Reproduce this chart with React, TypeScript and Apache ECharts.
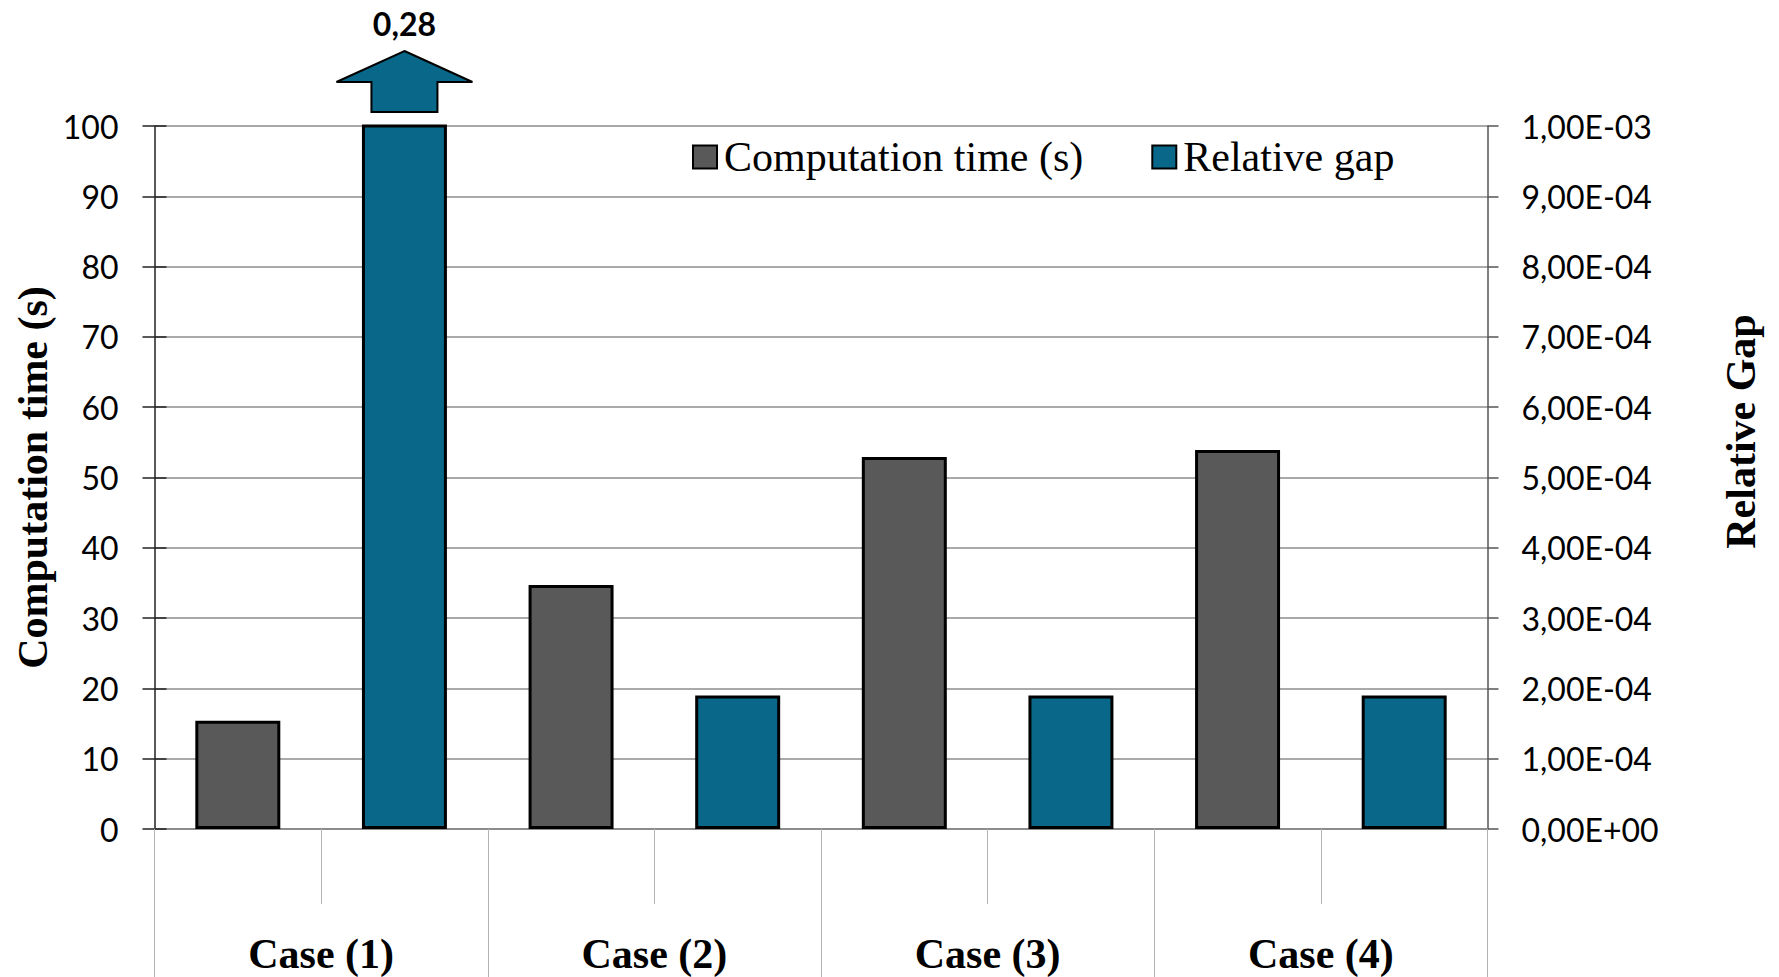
import React, { useEffect, useRef } from "react";
import * as echarts from "echarts";

const groups = ["Case (1)", "Case (2)", "Case (3)", "Case (4)"];
const subCats = [
  "Case (1) time", "Case (1) gap",
  "Case (2) time", "Case (2) gap",
  "Case (3) time", "Case (3) gap",
  "Case (4) time", "Case (4) gap",
];
const computationTime = [15.4, null, 34.7, null, 52.9, null, 53.9, null];
const relativeGap = [null, 0.28, null, 1.9e-4, null, 1.9e-4, null, 1.9e-4];
const leftTicks = { min: 0, max: 100, interval: 10 };
const rightTicks = { min: 0, max: 1e-3, interval: 1e-4 };
const leftTitle = "Computation time (s)";
const rightTitle = "Relative Gap";

const fmtSci = (v: number) => {
  if (Math.abs(v) < 1e-12) return "0,00E+00";
  const [m, e] = v.toExponential(2).split("e");
  const en = parseInt(e, 10);
  return m.replace(".", ",") + "E" + (en < 0 ? "-" : "+") + String(Math.abs(en)).padStart(2, "0");
};

export default function App() {
  const ref = useRef<HTMLDivElement>(null);
  useEffect(() => {
    const chart = echarts.init(ref.current!, undefined, { renderer: "svg" });
    const labelFont = { fontFamily: "Lato", fontSize: 32, color: "#000" };
    const titleFont = { fontFamily: "Liberation Serif", fontSize: 42, fontWeight: "bold" as const, color: "#000" };
    chart.setOption({
      animation: false,
      backgroundColor: "#fff",
      grid: { left: 154.5, right: 291.5, top: 126, bottom: 148, containLabel: false, outerBoundsMode: "none" },
      legend: {
        left: 687,
        top: 131,
        icon: "rect",
        itemWidth: 24,
        itemHeight: 23,
        itemGap: 68,
        textStyle: { fontFamily: "Liberation Serif", fontSize: 42, color: "#000", padding: [0, 0, 0, 2] },
        data: ["Computation time (s)", "Relative gap"],
      },
      xAxis: [
        {
          type: "category",
          data: subCats,
          position: "bottom",
          axisLine: { show: true, onZero: false, lineStyle: { color: "#8c8c8c", width: 2 } },
          axisTick: { show: true, interval: 0, length: 75, lineStyle: { color: "#b4b4b4", width: 1 } },
          axisLabel: { show: false },
          splitLine: { show: false },
        },
        {
          type: "category",
          data: groups,
          position: "bottom",
          axisLine: { show: false },
          axisTick: { show: true, interval: 0, length: 148, lineStyle: { color: "#b4b4b4", width: 1 } },
          axisLabel: { show: true, margin: 104, ...titleFont },
          splitLine: { show: false },
        },
      ],
      yAxis: [
        {
          type: "value",
          position: "left",
          ...leftTicks,
          axisLine: { show: true, lineStyle: { color: "#222", width: 1.5 } },
          axisTick: { show: true, length: 12, lineStyle: { color: "#222", width: 1.5 } },
          axisLabel: { margin: 36, ...labelFont },
          splitLine: { show: true, lineStyle: { color: "#8c8c8c", width: 1.5 } },
        },
        {
          type: "value",
          position: "right",
          ...rightTicks,
          axisLine: { show: true, lineStyle: { color: "#555", width: 1.5 } },
          axisTick: { show: true, length: 11, lineStyle: { color: "#555", width: 1.5 } },
          axisLabel: { margin: 34, ...labelFont, formatter: (v: number) => fmtSci(v) },
          splitLine: { show: false },
        },
        {
          type: "value",
          position: "left",
          ...leftTicks,
          axisLine: { show: false },
          axisTick: { show: true, inside: true, length: 12, lineStyle: { color: "#222", width: 1.5 } },
          axisLabel: { show: false },
          splitLine: { show: false },
        },
      ],
      series: [
        {
          name: "Computation time (s)",
          type: "bar",
          xAxisIndex: 0,
          yAxisIndex: 0,
          data: computationTime,
          barWidth: "51%",
          barGap: "-100%",
          itemStyle: { color: "#595959", borderColor: "#000", borderWidth: 3 },
        },
        {
          name: "Relative gap",
          type: "bar",
          xAxisIndex: 0,
          yAxisIndex: 1,
          data: relativeGap,
          barWidth: "51%",
          barGap: "-100%",
          clip: true,
          itemStyle: { color: "#09688a", borderColor: "#000", borderWidth: 3 },
        },
      ],
    });

    const cx0 = chart.convertToPixel({ xAxisIndex: 0 }, subCats[0]) as number;
    const cx = chart.convertToPixel({ xAxisIndex: 0 }, subCats[1]) as number;
    const rightX = chart.convertToPixel({ xAxisIndex: 0 }, subCats[7]) as number;
    const top = chart.convertToPixel({ yAxisIndex: 0 }, leftTicks.max) as number;
    const midY = chart.convertToPixel({ yAxisIndex: 0 }, 50) as number;
    const catW = cx - cx0;
    const leftEdge = cx0 - catW / 2;
    const rightEdge = rightX + catW / 2;
    const offVal = relativeGap.find((v) => v !== null && v > rightTicks.max) as number;
    chart.setOption({
      graphic: [
        {
          type: "polygon",
          shape: {
            points: [
              [cx, top - 75],
              [cx + 68, top - 44],
              [cx + 33, top - 44],
              [cx + 33, top - 14],
              [cx - 33, top - 14],
              [cx - 33, top - 44],
              [cx - 68, top - 44],
            ],
          },
          style: { fill: "#09688a", stroke: "#000", lineWidth: 2 },
        },
        {
          type: "text",
          x: cx,
          y: top - 103,
          style: {
            text: String(offVal).replace(".", ","),
            fontFamily: "Lato",
            fontSize: 32,
            fontWeight: "bold",
            fill: "#000",
            align: "center",
            verticalAlign: "middle",
          },
        },
        {
          type: "text",
          x: leftEdge - 122,
          y: midY,
          rotation: Math.PI / 2,
          style: { text: leftTitle, ...titleFont, fill: "#000", align: "center", verticalAlign: "middle" },
        },
        {
          type: "text",
          x: rightEdge + 253,
          y: midY - 46,
          rotation: Math.PI / 2,
          style: { text: rightTitle, ...titleFont, fill: "#000", align: "center", verticalAlign: "middle" },
        },
      ],
    });
    return () => chart.dispose();
  }, []);
  return (
    <div
      ref={ref}
      style={{ position: "fixed", left: 0, top: 0, width: 1779, height: 977, background: "#fff" }}
    />
  );
}
